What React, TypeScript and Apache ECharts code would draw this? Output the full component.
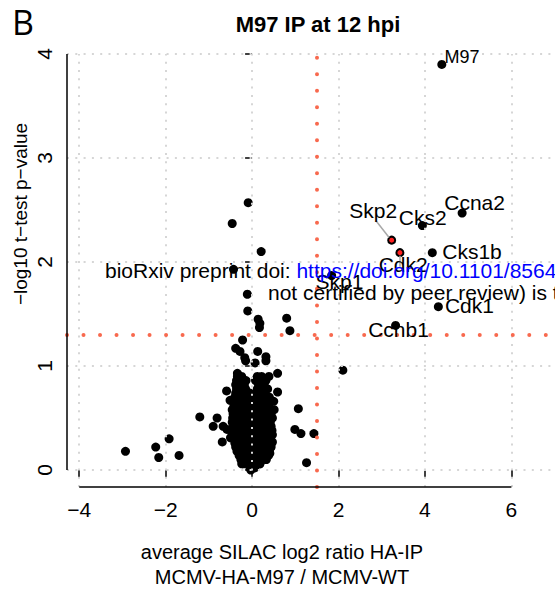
import React, { useEffect, useRef } from "react";
import * as echarts from "echarts";

const FONT = "'Liberation Sans', Arial, Helvetica, sans-serif";

// axis ticks
const xTicks = [-4, -2, 0, 2, 4, 6];
const yTicks = [0, 1, 2, 3, 4];
const xMin = -4.283;
const xMax = 7.009;
const yMin = -0.1635;
const yMax = 4.0;

// thresholds
const log2Threshold = 1.5;
const pThreshold = 1.30103;

// dense cluster around 0, rows of [negLog10P, log2 ratios]
const clusterRows: [number, number[]][] = [
  [0.02, [-0.05, 0.06]],
  [0.06, [-0.2, -0.1, 0.0, 0.1, 0.18]],
  [0.1, [-0.26, -0.15, -0.05, 0.05, 0.15, 0.25, 0.33]],
  [0.14, [-0.3, -0.2, -0.1, 0.0, 0.1, 0.2, 0.3, 0.38]],
  [0.18, [-0.35, -0.22, -0.12, 0.02, 0.12, 0.22, 0.32, 0.4]],
  [0.22, [-0.38, -0.28, -0.15, -0.05, 0.08, 0.18, 0.28, 0.38, 0.44]],
  [0.26, [-0.4, -0.3, -0.18, -0.08, 0.05, 0.15, 0.25, 0.35, 0.45]],
  [0.3, [-0.42, -0.32, -0.2, -0.1, 0.02, 0.12, 0.22, 0.32, 0.42]],
  [0.34, [-0.45, -0.35, -0.22, -0.12, 0.0, 0.1, 0.2, 0.3, 0.4, 0.47]],
  [0.38, [-0.48, -0.36, -0.25, -0.14, -0.03, 0.08, 0.18, 0.28, 0.38, 0.46]],
  [0.42, [-0.44, -0.33, -0.22, -0.1, 0.02, 0.12, 0.24, 0.34, 0.44]],
  [0.46, [-0.46, -0.35, -0.24, -0.12, 0.0, 0.1, 0.2, 0.3, 0.42]],
  [0.5, [-0.45, -0.33, -0.2, -0.08, 0.04, 0.15, 0.26, 0.38, 0.47]],
  [0.54, [-0.44, -0.32, -0.22, -0.1, 0.02, 0.12, 0.22, 0.34, 0.44]],
  [0.58, [-0.46, -0.35, -0.24, -0.13, -0.02, 0.1, 0.2, 0.32, 0.45]],
  [0.62, [-0.42, -0.3, -0.2, -0.08, 0.04, 0.14, 0.26, 0.38]],
  [0.66, [-0.44, -0.33, -0.22, -0.12, 0.0, 0.12, 0.22, 0.34]],
  [0.7, [-0.4, -0.3, -0.18, -0.06, 0.08, 0.18, 0.3, 0.4]],
  [0.74, [-0.38, -0.28, -0.18, -0.05, 0.1, 0.2, 0.3]],
  [0.78, [-0.36, -0.25, -0.15, 0.12, 0.24, 0.36]],
  [0.82, [-0.38, -0.28, -0.18, 0.15, 0.28]],
  [0.86, [-0.36, -0.26, -0.14, 0.08, 0.2, 0.32]],
  [0.9, [-0.34, -0.24, 0.12, 0.22]],
];

// scattered proteins outside the dense core [log2 ratio, -log10 p]
const outlierPoints: [number, number][] = [
  [-0.09, 2.57], [-0.46, 2.37], [0.21, 2.1], [-0.43, 1.93], [-0.11, 1.69],
  [-0.1, 1.53], [0.14, 1.45], [0.18, 1.41], [0.17, 1.37], [0.8, 1.46],
  [0.875, 1.34], [-0.22, 1.25], [-0.38, 1.17], [-0.28, 1.14], [-0.17, 1.08],
  [-0.15, 1.05], [0.13, 1.14], [0.32, 1.09], [0.32, 1.05], [0.07, 1.03],
  [0.59, 0.93], [-0.34, 0.93], [0.39, 0.9], [0.09, 0.87], [-0.59, 0.76],
  [0.59, 0.75], [1.07, 0.59], [-1.21, 0.51], [-0.81, 0.5], [-0.9, 0.42],
  [-0.67, 0.42], [-0.58, 0.39], [-0.69, 0.27], [-0.46, 0.32], [0.99, 0.39],
  [1.13, 0.35], [1.43, 0.35], [1.26, 0.07], [0.41, 0.16], [0.47, 0.27],
  [0.45, 0.37], [0.5, 0.66], [0.51, 0.58], [-0.03, 0.0], [-0.24, 0.06],
  [0.18, 0.06], [-0.51, 0.67], [-1.92, 0.3], [-2.23, 0.22], [-2.16, 0.12],
  [-1.69, 0.14], [-2.93, 0.18], [-0.5, 0.31], [2.1, 0.96],
];

// labelled proteins
const geneNames = ["M97", "Ccna2", "Cks2", "Skp2", "Cdk2", "Cks1b", "Skp1", "Cdk1", "Ccnb1"];
const geneLog2 = [4.39, 4.86, 3.94, 3.23, 3.42, 4.17, 1.84, 4.31, 3.32];
const geneNegLogP = [3.9, 2.47, 2.35, 2.21, 2.09, 2.09, 1.87, 1.57, 1.39];
const geneHighlighted = [false, false, false, true, true, false, false, false, false];
const labelX = [4.87, 5.16, 3.96, 2.815, 3.507, 5.1, 2.032, 5.04, 3.4];
const labelY = [3.97, 2.564, 2.426, 2.49, 1.969, 2.098, 1.805, 1.574, 1.343];
const connectors: [[number, number], [number, number]][] = [
  [[2.88, 2.39], [3.17, 2.236]],
  [[3.42, 2.06], [3.42, 1.955]],
];

const minus = (v: number) => (v < 0 ? "\u2212" + Math.abs(v) : String(v));

export default function App() {
  const ref = useRef<HTMLDivElement>(null);
  useEffect(() => {
    const chart = echarts.init(ref.current!, null, { renderer: "svg" });
    const clusterPoints = clusterRows.flatMap(([y, xs]) => xs.map((x) => [x, y]));
    const allPoints = [...clusterPoints, ...outlierPoints];

    const textStyle = (text: string, font: string, align: string) => ({
      text,
      font,
      fill: "#000",
      align,
      verticalAlign: "middle",
      textAlign: align,
      textVerticalAlign: "middle",
    });

    const option: any = {
      animation: false,
      grid: { left: 67, right: 0, top: 54, bottom: 105, containLabel: false },
      xAxis: {
        type: "value",
        min: xMin,
        max: xMax,
        axisLine: { show: false },
        splitLine: { show: false },
        axisTick: {
          show: true,
          customValues: xTicks,
          length: 7,
          lineStyle: { color: "#000", width: 1.5 },
        },
        axisLabel: {
          show: true,
          customValues: xTicks,
          formatter: (v: number) => minus(v),
          color: "#000",
          fontSize: 21,
          fontFamily: FONT,
          margin: 12,
        },
      },
      yAxis: {
        type: "value",
        min: yMin,
        max: yMax,
        axisLine: { show: false },
        splitLine: { show: false },
        axisTick: {
          show: true,
          customValues: yTicks,
          length: 7,
          lineStyle: { color: "#000", width: 1.5 },
        },
        axisLabel: {
          show: true,
          customValues: yTicks,
          rotate: 90,
          formatter: (v: number) => minus(v),
          color: "#000",
          fontSize: 21,
          fontFamily: FONT,
          margin: 12,
        },
      },
      graphic: [
        { type: "text", x: 12, y: 22, z: 100, style: textStyle("B", "34px 'Open Sans', sans-serif", "left") },
        { type: "text", x: 318, y: 24, z: 100, style: textStyle("M97 IP at 12 hpi", "bold 22px " + FONT, "center") },
        {
          type: "text",
          x: 20,
          y: 214,
          rotation: Math.PI / 2,
          z: 100,
          style: textStyle("\u2212log10 t\u2212test p\u2212value", "19px " + FONT, "center"),
        },
        { type: "text", x: 282, y: 552, z: 100, style: textStyle("average SILAC log2 ratio HA-IP", "20px " + FONT, "center") },
        { type: "text", x: 282, y: 577, z: 100, style: textStyle("MCMV-HA-M97 / MCMV-WT", "20px " + FONT, "center") },
        {
          type: "text",
          x: 105,
          y: 270,
          z: 200,
          style: {
            text: "{a|bioRxiv preprint doi: }{b|https://doi.org/10.1101/856435}",
            rich: {
              a: { fill: "#000", fontSize: 21, fontFamily: FONT },
              b: { fill: "#0000ff", fontSize: 21, fontFamily: FONT },
            },
            align: "left",
            verticalAlign: "middle",
            textAlign: "left",
            textVerticalAlign: "middle",
          },
        },
        {
          type: "text",
          x: 268,
          y: 292,
          z: 200,
          style: textStyle("not certified by peer review) is the author/funder", "21px " + FONT, "left"),
        },
      ],
      series: [
        {
          type: "scatter",
          name: "proteins",
          data: allPoints,
          symbolSize: 9,
          itemStyle: { color: "#000", opacity: 1 },
          silent: true,
          z: 2,
        },
        {
          type: "scatter",
          name: "genes",
          silent: true,
          z: 3,
          data: geneNames.map((n, i) => ({
            name: n,
            value: [geneLog2[i], geneNegLogP[i]],
            symbolSize: geneHighlighted[i] ? 7 : 9,
            itemStyle: geneHighlighted[i]
              ? { color: "#ff2020", borderColor: "#000", borderWidth: 2, opacity: 1 }
              : { color: "#000", opacity: 1 },
          })),
        },
        {
          type: "scatter",
          name: "gridlines",
          data: [],
          silent: true,
          z: 5,
          markLine: {
            silent: true,
            symbol: ["none", "none"],
            label: { show: false },
            lineStyle: { color: "#d6d6d6", width: 2, type: [2, 6.3] },
            data: [
              ...xTicks.map((v) => ({ xAxis: v })),
              ...yTicks.map((v) => ({ yAxis: v })),
            ],
          },
        },
        {
          type: "scatter",
          name: "thresholds",
          data: [],
          silent: true,
          z: 6,
          markLine: {
            silent: true,
            symbol: ["none", "none"],
            label: { show: false },
            lineStyle: { color: "#f8694e", width: 4, type: [0.01, 16.5], cap: "round", opacity: 1 },
            data: [{ xAxis: log2Threshold }, { yAxis: pThreshold }],
          },
        },
        {
          type: "scatter",
          name: "axes",
          data: [],
          silent: true,
          z: 7,
          markLine: {
            silent: true,
            symbol: ["none", "none"],
            label: { show: false },
            lineStyle: { color: "#000", width: 1.5, type: "solid", opacity: 1 },
            data: [
              [{ coord: [xTicks[0], yMin] }, { coord: [xTicks[xTicks.length - 1], yMin] }],
              [{ coord: [xMin, yTicks[0]] }, { coord: [xMin, yTicks[yTicks.length - 1]] }],
            ],
          },
        },
        {
          type: "scatter",
          name: "labels",
          silent: true,
          z: 8,
          symbolSize: 1,
          itemStyle: { color: "rgba(0,0,0,0)", opacity: 1 },
          label: {
            show: true,
            formatter: "{b}",
            position: [0, 0],
            align: "center",
            verticalAlign: "middle",
            color: "#000",
            opacity: 1,
            fontSize: 21,
            fontFamily: FONT,
          },
          data: geneNames.map((n, i) => ({
            name: n,
            value: [labelX[i], labelY[i]],
            label: { fontSize: n === "M97" ? 18 : 21 },
          })),
          markLine: {
            silent: true,
            symbol: ["none", "none"],
            label: { show: false },
            lineStyle: { color: "#a8a8a8", width: 1.5, type: "solid", opacity: 1 },
            data: connectors.map(([a, b]) => [{ coord: a }, { coord: b }]),
          },
        },
      ],
    };
    chart.setOption(option);
    return () => chart.dispose();
  }, []);
  return (
    <div
      ref={ref}
      style={{ position: "absolute", left: 0, top: 0, width: 555, height: 592 }}
    />
  );
}
